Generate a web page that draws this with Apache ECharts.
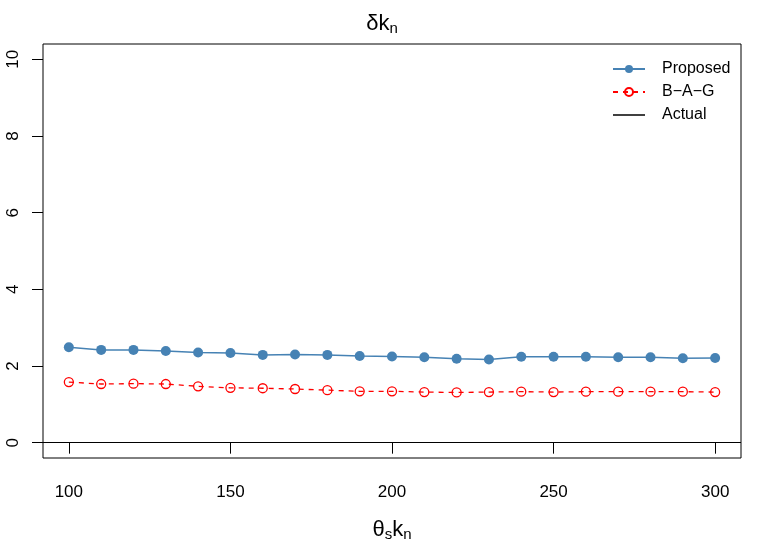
<!DOCTYPE html>
<html><head><meta charset="utf-8">
<script src="https://cdn.jsdelivr.net/npm/echarts@6/dist/echarts.min.js"></script>
<style>html,body{margin:0;padding:0;background:#fff}#c{width:764px;height:546px}</style>
</head><body><div id="c"></div>
<script>
const thetaValues = [100,110,120,130,140,150,160,170,180,190,200,210,220,230,240,250,260,270,280,290,300];
const proposed = [2.49,2.42,2.42,2.39,2.35,2.34,2.29,2.30,2.29,2.26,2.25,2.23,2.19,2.17,2.24,2.24,2.24,2.23,2.23,2.20,2.21];
const bag = [1.58,1.53,1.54,1.53,1.47,1.43,1.42,1.40,1.37,1.34,1.34,1.32,1.31,1.32,1.33,1.32,1.33,1.33,1.33,1.33,1.32];
const actualValue = 0;
const xTicks = [100,150,200,250,300];
const yTicks = [0,2,4,6,8,10];

const FONT = 'Liberation Sans, Arial, Helvetica, sans-serif';
const pair = (xs, ys) => xs.map((x, i) => [x, ys[i]]);

const chart = echarts.init(document.getElementById('c'));
chart.setOption({
  animation: false,
  backgroundColor: '#fff',
  textStyle: { fontFamily: FONT },
  title: {
    text: '{a|δk}{s|n}',
    left: 'center', top: 6,
    textStyle: {
      fontWeight: 'normal',
      rich: {
        a: { fontFamily: FONT, fontSize: 22, fontWeight: 'normal', color: '#000' },
        s: { fontFamily: FONT, fontSize: 15, fontWeight: 'normal', color: '#000', padding: [10, 0, 0, 0] }
      }
    }
  },
  grid: { left: 43, right: 23, top: 44, bottom: 88, outerBoundsMode: 'none', show: true, borderColor: '#000', borderWidth: 1, backgroundColor: 'transparent' },
  legend: {
    orient: 'vertical', left: 607, top: 56,
    itemWidth: 32, itemHeight: 10, itemGap: 7,
    textStyle: { fontFamily: FONT, fontSize: 16, color: '#000', padding: [0, 0, 0, 12] },
    data: ['Proposed', 'B\u2212A\u2212G', { name: 'Actual', icon: 'path://M0,0 L32,0 L32,1.5 L0,1.5 Z', itemStyle: { color: '#000' } }]
  },
  xAxis: {
    type: 'value', min: 92, max: 308,
    name: '{a|θ}{s|s}{a|k}{s|n}', nameLocation: 'middle', nameGap: 59,
    nameTextStyle: {
      rich: {
        a: { fontFamily: FONT, fontSize: 22, color: '#000' },
        s: { fontFamily: FONT, fontSize: 15, color: '#000', padding: [10, 0, 0, 0] }
      }
    },
    axisLine: { show: false },
    axisTick: { show: true, inside: false, length: 11, customValues: xTicks, lineStyle: { color: '#000' } },
    axisLabel: { customValues: xTicks, margin: 26, fontFamily: FONT, fontSize: 17, color: '#000' },
    splitLine: { show: false }
  },
  yAxis: {
    type: 'value', min: -0.4, max: 10.4,
    axisLine: { show: false },
    axisTick: { show: true, inside: false, length: 11, customValues: yTicks, lineStyle: { color: '#000' } },
    axisLabel: { customValues: yTicks, rotate: 90, margin: 21, fontFamily: FONT, fontSize: 17, color: '#000' },
    splitLine: { show: false }
  },
  series: [
    {
      name: 'Proposed', type: 'line', data: pair(thetaValues, proposed),
      symbol: 'circle', symbolSize: 10,
      lineStyle: { color: '#4682B4', width: 1.5 },
      itemStyle: { color: '#4682B4' }
    },
    {
      name: 'B\u2212A\u2212G', type: 'line', data: pair(thetaValues, bag),
      symbol: 'circle', symbolSize: 9,
      lineStyle: { color: '#FF0000', width: 1.3, type: [5, 5] },
      itemStyle: { color: 'rgba(255,255,255,0)', borderColor: '#FF0000', borderWidth: 1.3 }
    },
    {
      name: 'Actual', type: 'line', data: [], symbol: 'none',
      lineStyle: { color: '#000', width: 1.2 }, itemStyle: { color: '#000' },
      markLine: {
        silent: true, symbol: ['none', 'none'],
        label: { show: false },
        lineStyle: { color: '#000', width: 1.2, type: 'solid' },
        data: [{ yAxis: actualValue }]
      }
    }
  ]
});
</script></body></html>
